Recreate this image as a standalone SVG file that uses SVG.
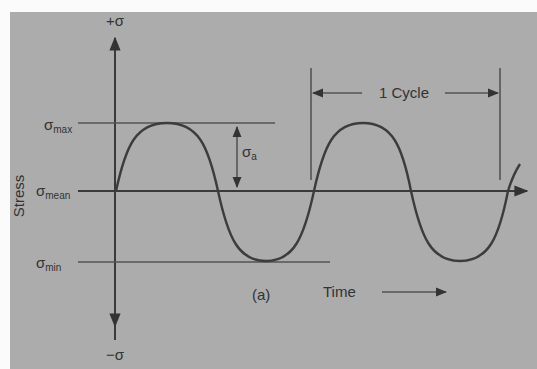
<svg xmlns="http://www.w3.org/2000/svg" width="537" height="369" viewBox="0 0 537 369">
<defs>
<style>
.ax{stroke:#3a3a3a;stroke-width:2;fill:none}
.ln{stroke:#555;stroke-width:1.6;fill:none}
.cv{stroke:#3c3c3c;stroke-width:2.4;fill:none}
.t{font-family:"Liberation Sans",Arial,sans-serif;fill:#333;font-size:15px}
.s{font-size:10px}
</style>
<marker id="ah" viewBox="0 0 10 10" refX="9" refY="5" markerWidth="7" markerHeight="7" orient="auto-start-reverse">
<path d="M0,1 L10,5 L0,9 z" fill="#333"/>
</marker>
</defs>
<rect width="537" height="369" fill="#fbfbfb"/>
<rect x="10" y="12" width="527" height="357" fill="#acacac"/>
<g id="connectors">
<line class="ax" x1="115" y1="340" x2="115" y2="38" marker-end="url(#ah)"/>
<line class="ax" x1="115" y1="300" x2="115" y2="326" marker-end="url(#ah)"/>
<line class="ln" x1="78" y1="123" x2="275" y2="123"/>
<line class="ax" x1="78" y1="191" x2="527" y2="191" marker-end="url(#ah)"/>
<line class="ln" x1="78" y1="262" x2="330" y2="262"/>
<line class="ln" x1="237" y1="127" x2="237" y2="187" marker-start="url(#ah)" marker-end="url(#ah)"/>
<line class="ln" x1="311" y1="68" x2="311" y2="180"/>
<line class="ln" x1="500" y1="68" x2="500" y2="180"/>
<line class="ln" x1="362" y1="93" x2="313" y2="93" marker-end="url(#ah)"/>
<line class="ln" x1="445" y1="93" x2="498" y2="93" marker-end="url(#ah)"/>
<line class="ln" x1="382" y1="292" x2="446" y2="292" marker-end="url(#ah)"/>
<path class="cv" d="M116,191 C126,145 136,123 167,123 C198,123 208,145 218,191 C228,237 238,261 266,261 C294,261 304,237 314,191 C324,145 334,123 363,123 C392,123 402,145 411,191 C421,237 431,261 460,261 C489,261 499,237 508,191 C512,178 516,170 520,164"/>
</g>
<g id="label-plus"><text class="t" x="106" y="26">+σ</text></g>
<g id="label-minus"><text class="t" x="106" y="360">−σ</text></g>
<g id="label-max"><text class="t" x="44" y="130">σ<tspan class="s" dy="3">max</tspan></text></g>
<g id="label-mean"><text class="t" x="36" y="196">σ<tspan class="s" dy="3">mean</tspan></text></g>
<g id="label-min"><text class="t" x="36" y="268">σ<tspan class="s" dy="3">min</tspan></text></g>
<g id="label-a"><text class="t" x="242" y="157">σ<tspan class="s" dy="3">a</tspan></text></g>
<g id="label-stress"><text class="t" font-size="12" transform="translate(24,196) rotate(-90)" text-anchor="middle">Stress</text></g>
<g id="label-cycle"><text class="t" x="404" y="98" text-anchor="middle" font-size="13">1 Cycle</text></g>
<g id="label-time"><text class="t" x="323" y="297" font-size="13">Time</text></g>
<g id="label-fig"><text class="t" x="252" y="300" font-size="13">(a)</text></g>
</svg>
